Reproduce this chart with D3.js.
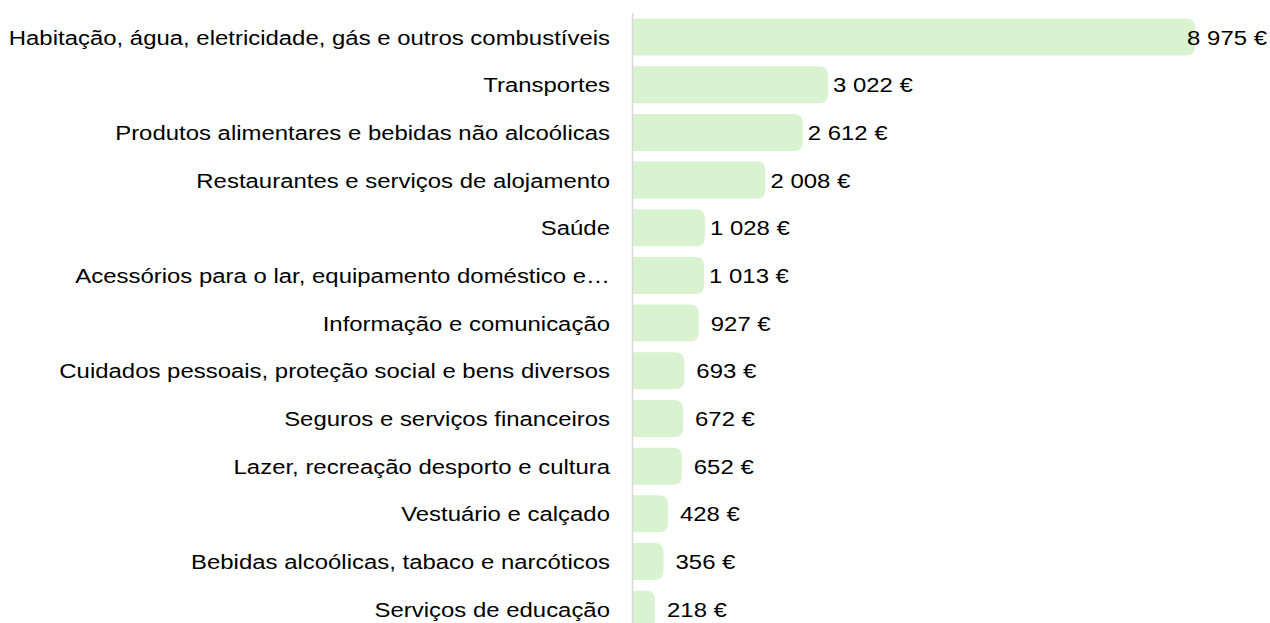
<!DOCTYPE html>
<html lang="pt">
<meta charset="utf-8">
<script src="https://d3js.org/d3.v7.min.js"></script>
<style>
  body { margin: 0; background: #fff; }
  text { font-family: "Liberation Sans", Arial, sans-serif; font-size: 20px; fill: #000; }
</style>
<body>
<svg width="1270" height="623"></svg>
<script>
// despesa média anual por agregado, por categoria
var categorias = [
  "Habitação, água, eletricidade, gás e outros combustíveis",
  "Transportes",
  "Produtos alimentares e bebidas não alcoólicas",
  "Restaurantes e serviços de alojamento",
  "Saúde",
  "Acessórios para o lar, equipamento doméstico e…",
  "Informação e comunicação",
  "Cuidados pessoais, proteção social e bens diversos",
  "Seguros e serviços financeiros",
  "Lazer, recreação desporto e cultura",
  "Vestuário e calçado",
  "Bebidas alcoólicas, tabaco e narcóticos",
  "Serviços de educação"
];
var valores = [8975, 3022, 2612, 2008, 1028, 1013, 927, 693, 672, 652, 428, 356, 218];

var width = 1270, height = 623;
var svg = d3.select("svg");

var x0 = 633, r = 8.6;
var sx = 1.197; // the original text is stretched horizontally
var x = d3.scaleLinear().domain([0, 9000]).range([x0, 1188]);
var y = d3.scaleBand().domain(categorias).range([13.2, 633]).paddingInner(0.224).paddingOuter(0.112);

var fmt = function(v) { return d3.format(",")(v).replace(/,/g, " ") + " €"; };

function barPath(x1, x2, y1, h, rad) {
  return "M" + x1 + "," + y1 +
    "H" + (x2 - rad) +
    "Q" + x2 + "," + y1 + " " + x2 + "," + (y1 + rad) +
    "V" + (y1 + h - rad) +
    "Q" + x2 + "," + (y1 + h) + " " + (x2 - rad) + "," + (y1 + h) +
    "H" + x1 + "Z";
}

var rows = categorias.map(function(c, i) { return {cat: c, v: valores[i]}; });
var cy = function(d) { return y(d.cat) + y.bandwidth() / 2; };

svg.append("g").selectAll("path")
  .data(rows)
  .enter().append("path")
  .attr("d", function(d) { return barPath(x0, x(d.v) + r, y(d.cat), y.bandwidth(), 9); })
  .style("fill", "#d9f2d0");

// eixo vertical
svg.append("line")
  .attr("x1", x0 - 0.5).attr("x2", x0 - 0.5)
  .attr("y1", 13).attr("y2", height)
  .style("stroke", "#d9d9d9").style("stroke-width", 1.5);

// nomes das categorias
svg.append("g").selectAll("text")
  .data(rows)
  .enter().append("text")
  .attr("transform", function(d) { return "translate(610," + cy(d) + ") scale(" + sx + ",1)"; })
  .attr("dy", "0.38em")
  .attr("text-anchor", "end")
  .text(function(d) { return d.cat; });

// valores
svg.append("g").selectAll("text")
  .data(rows)
  .enter().append("text")
  .attr("dy", "0.38em")
  .text(function(d) { return fmt(d.v); })
  .attr("transform", function(d) {
    var w = this.getComputedTextLength() * sx;
    var pos = x(d.v) + r + 5 + (d.v < 1000 ? 7 : 0);
    pos = Math.min(pos, 1267 - w);
    return "translate(" + pos + "," + cy(d) + ") scale(" + sx + ",1)";
  });
</script>
</body>
</html>
